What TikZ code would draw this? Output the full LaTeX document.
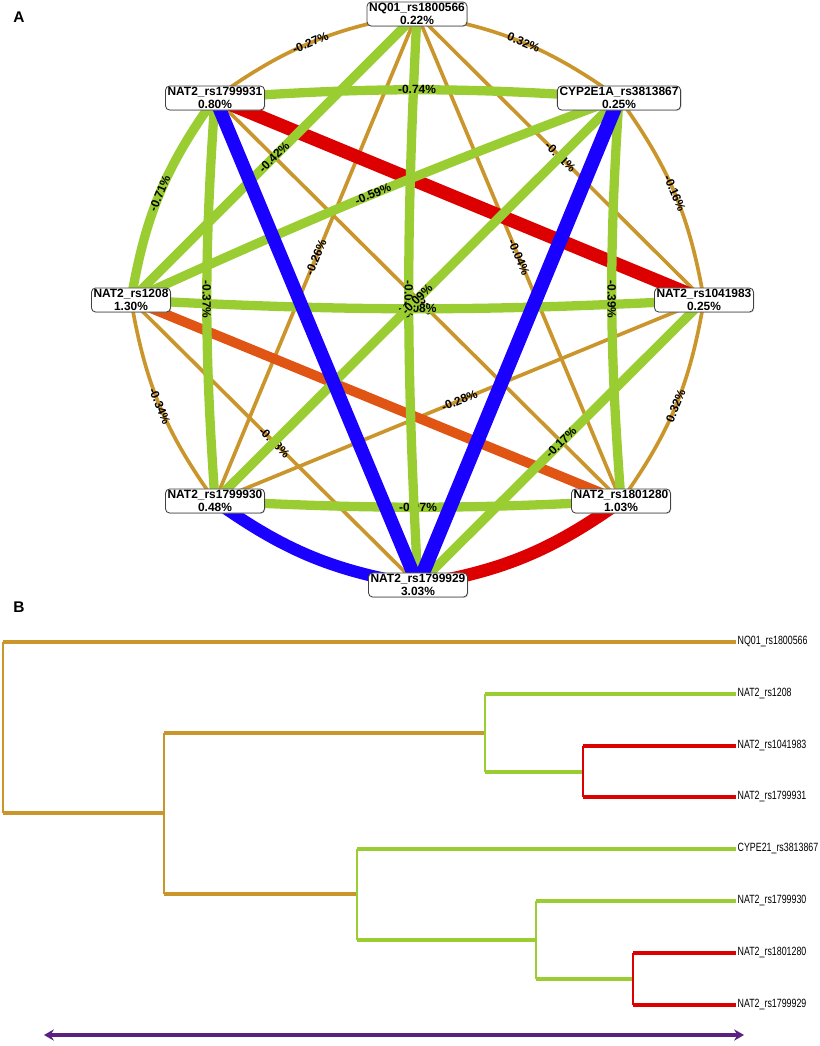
\documentclass[tikz,border=0pt]{standalone}
\usepackage{fontspec}
\setmainfont{Liberation Sans}
\usepackage{graphicx}
\usetikzlibrary{shadows,arrows.meta}
\pgfdeclarelayer{background}
\pgfsetlayers{background,main}
\definecolor{edgegreen}{RGB}{154,205,50}
\definecolor{edgebrown}{RGB}{202,150,44}
\definecolor{edgered}{RGB}{221,0,0}
\definecolor{edgeblue}{RGB}{26,0,255}
\definecolor{edgeorange}{RGB}{224,84,20}
\definecolor{barpurple}{RGB}{91,33,130}
\newcommand{\leafname}[1]{\scalebox{0.74}[1]{#1}}

\begin{document}
\begin{tikzpicture}[x=0.025cm,y=-0.025cm,
		panel/.style={font=\fontsize{11}{12}\selectfont\bfseries},
		snp/.style={draw=black!75,fill=white,rounded corners=3pt,line width=0.6pt,align=center,
			inner xsep=1.5pt,inner ysep=0.8pt,font=\fontsize{8.5}{9.5}\selectfont\bfseries,
			drop shadow={shadow xshift=0.6pt,shadow yshift=-0.6pt,opacity=0.35}},
		pct/.style={font=\fontsize{8.5}{9}\selectfont\bfseries,sloped,midway,inner sep=0pt},
		brownedge/.style={draw=edgebrown,line width=2.6pt},
		greenedge/.style={draw=edgegreen,line width=6.6pt},
		hbar/.style={line width=2.9pt},
		vbar/.style={line width=1.5pt},
		leaf/.style={anchor=west,inner xsep=1pt,font=\fontsize{8.5}{9}\selectfont}]
		\useasboundingbox (0,0) rectangle (820,1046);
		
		% A: network
		\node[panel] (panA) at (19,17) {A};
		\node[snp] (nq) at (417,14) {NQ01\_rs1800566\\0.22\%};
		\node[snp] (n1931) at (215,98) {NAT2\_rs1799931\\0.80\%};
		\node[snp] (cyp) at (619,98) {CYP2E1A\_rs3813867\\0.25\%};
		\node[snp] (n1208) at (131,300) {NAT2\_rs1208\\1.30\%};
		\node[snp] (n1041) at (704,300) {NAT2\_rs1041983\\0.25\%};
		\node[snp] (n1930) at (215,501) {NAT2\_rs1799930\\0.48\%};
		\node[snp] (n1280) at (621,501) {NAT2\_rs1801280\\1.03\%};
		\node[snp] (n1929) at (418,585) {NAT2\_rs1799929\\3.03\%};
		
		\begin{pgfonlayer}{background}
			\draw[brownedge] (nq.center) to[bend left=13] node[pct]{0.32\%} (cyp.center);
			\draw[brownedge] (cyp.center) to[bend left=13] node[pct]{-0.16\%} (n1041.center);
			\draw[brownedge] (n1041.center) to[bend left=13] node[pct]{0.32\%} (n1280.center);
			\draw[brownedge] (n1930.center) to[bend left=13] node[pct]{-0.34\%} (n1208.center);
			\draw[brownedge] (n1931.center) to[bend left=13] node[pct]{-0.27\%} (nq.center);
			\draw[brownedge] (nq.center) -- node[pct]{-0.26\%} (n1930.center);
			\draw[brownedge] (nq.center) -- node[pct]{-0.04\%} (n1280.center);
			\draw[brownedge] (nq.center) -- node[pct]{-0.01\%} (n1041.center);
			\draw[brownedge] (n1931.center) -- node[pct]{-0.03\%} (n1280.center);
			\draw[brownedge] (n1208.center) -- node[pct]{-0.18\%} (n1929.center);
			\draw[brownedge] (n1041.center) -- node[pct]{-0.28\%} (n1930.center);
			
			\draw[edgeorange,line width=7pt] (n1208.center) -- node[pct]{0.53\%} (n1280.center);
			\draw[edgered,line width=9.5pt] (n1931.center) -- node[pct]{1.23\%} (n1041.center);
			\draw[edgered,line width=9pt] (n1280.center) to[bend left=13] node[pct]{1.72\%} (n1929.center);
			
			\draw[greenedge] (n1930.center) to[bend right=3] node[pct]{-0.07\%} (n1280.center);
			\draw[greenedge] (nq.center) to[bend right=3] node[pct]{-0.05\%} (n1929.center);
			\draw[greenedge] (n1208.center) to[bend right=3] node[pct]{-0.08\%} (n1041.center);
			\draw[greenedge] (cyp.center) to[bend right=4] node[pct]{-0.74\%} (n1931.center);
			\draw[greenedge] (n1208.center) to[bend left=13] node[pct]{-0.71\%} (n1931.center);
			\draw[greenedge] (n1931.center) to[bend right=4] node[pct]{-0.37\%} (n1930.center);
			\draw[greenedge] (cyp.center) to[bend right=4] node[pct]{-0.39\%} (n1280.center);
			\draw[greenedge] (nq.center) -- node[pct]{-0.42\%} (n1208.center);
			\draw[greenedge] (cyp.center) to[bend right=2] node[pct]{-0.59\%} (n1208.center);
			\draw[greenedge] (cyp.center) -- node[pct]{-0.09\%} (n1930.center);
			\draw[greenedge] (n1041.center) -- node[pct]{-0.17\%} (n1929.center);
			
			\draw[edgeblue,line width=9.5pt] (n1931.center) -- node[pct]{-1.47\%} (n1929.center);
			\draw[edgeblue,line width=10pt] (cyp.center) -- node[pct]{-1.12\%} (n1929.center);
			\draw[edgeblue,line width=8.5pt] (n1929.center) to[bend left=13] node[pct]{-1.31\%} (n1930.center);
		\end{pgfonlayer}
		
		% B: dendrogram
		\node[panel] (panB) at (19,607) {B};
		\node[leaf] (lnq) at (736,642) {\leafname{NQ01\_rs1800566}};
		\node[leaf] (l1208) at (736,694) {\leafname{NAT2\_rs1208}};
		\node[leaf] (l1041) at (736,746) {\leafname{NAT2\_rs1041983}};
		\node[leaf] (l1931) at (736,797) {\leafname{NAT2\_rs1799931}};
		\node[leaf] (lcyp) at (736,849) {\leafname{CYPE21\_rs3813867}};
		\node[leaf] (l1930) at (736,901) {\leafname{NAT2\_rs1799930}};
		\node[leaf] (l1280) at (736,953) {\leafname{NAT2\_rs1801280}};
		\node[leaf] (l1929) at (736,1005) {\leafname{NAT2\_rs1799929}};
		
		\coordinate (root) at (3,728);
		\coordinate (k6) at (164,813);
		\coordinate (k2) at (485,733);
		\coordinate (k1) at (583,772);
		\coordinate (k5) at (357,894);
		\coordinate (k4) at (536,940);
		\coordinate (k3) at (633,979);
		
		\draw[hbar,edgebrown] (root |- lnq) -- (lnq.west);
		\draw[hbar,edgebrown] (root |- k6) -- (k6);
		\draw[hbar,edgebrown] (k6 |- k2) -- (k2);
		\draw[hbar,edgebrown] (k6 |- k5) -- (k5);
		\draw[hbar,edgegreen] (k2 |- l1208) -- (l1208.west);
		\draw[hbar,edgegreen] (k2 |- k1) -- (k1);
		\draw[hbar,edgered] (k1 |- l1041) -- (l1041.west);
		\draw[hbar,edgered] (k1 |- l1931) -- (l1931.west);
		\draw[hbar,edgegreen] (k5 |- lcyp) -- (lcyp.west);
		\draw[hbar,edgegreen] (k5 |- k4) -- (k4);
		\draw[hbar,edgegreen] (k4 |- l1930) -- (l1930.west);
		\draw[hbar,edgegreen] (k4 |- k3) -- (k3);
		\draw[hbar,edgered] (k3 |- l1280) -- (l1280.west);
		\draw[hbar,edgered] (k3 |- l1929) -- (l1929.west);
		
		\draw[vbar,edgebrown] (root |- lnq) -- (root |- k6);
		\draw[vbar,edgebrown] (k6 |- k2) -- (k6 |- k5);
		\draw[vbar,edgegreen] (k2 |- l1208) -- (k2 |- k1);
		\draw[vbar,edgered] (k1 |- l1041) -- (k1 |- l1931);
		\draw[vbar,edgegreen] (k5 |- lcyp) -- (k5 |- k4);
		\draw[vbar,edgegreen] (k4 |- l1930) -- (k4 |- k3);
		\draw[vbar,edgered] (k3 |- l1280) -- (k3 |- l1929);
		
		\coordinate (sl) at (44,1035);
		\coordinate (sr) at (744,1035);
		\draw[barpurple,line width=2.8pt,{Stealth[length=7pt,width=8pt]}-{Stealth[length=7pt,width=8pt]}] (sl) -- (sr);
		
\end{tikzpicture}
\end{document}
